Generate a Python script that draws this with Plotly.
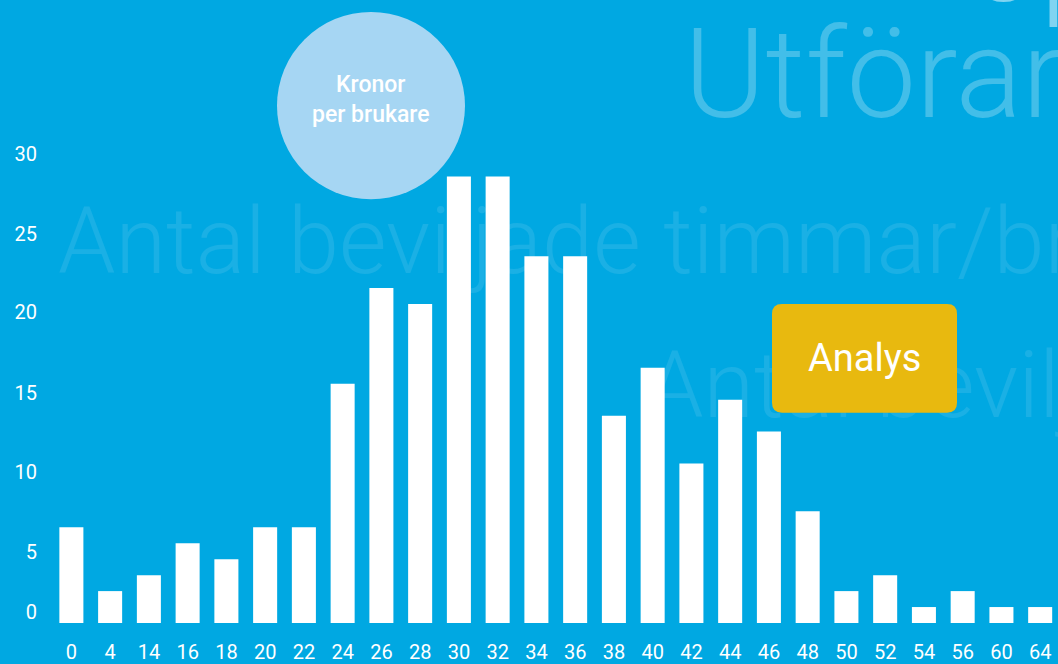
import plotly.graph_objects as go

# ---- data ----
categories = ["0", "4", "14", "16", "18", "20", "22", "24", "26", "28", "30", "32", "34",
              "36", "38", "40", "42", "44", "46", "48", "50", "52", "54", "56", "60", "64"]
values = [6, 2, 3, 5, 4, 6, 6, 15, 21, 20, 28, 28, 23, 23, 13, 16, 10, 14, 12, 7, 2, 3, 1, 2, 1, 1]
ytick_text = ["0", "5", "10", "15", "20", "25", "30"]

# ---- style ----
BG = "#00A8E2"
W, H = 1058, 664
L, B = 52, 39
PLOT_BOTTOM = H - B  # 625
FONT = "Roboto"

fig = go.Figure()

# decorative faint background text on the base axes (pixel coordinate system)
deco = [
    ("Antal beviljade timmar/brukare", 58, 251, 92, "rgba(255,255,255,0.10)"),
    ("Antal beviljade", 646, 395, 92, "rgba(255,255,255,0.10)"),
    ("Utförare", 684, 86, 124, "rgba(255,255,255,0.26)"),
]
for txt, x, y, size, col in deco:
    fig.add_trace(go.Scatter(
        x=[x], y=[y], mode="text", text=[txt], textposition="middle right",
        textfont=dict(family=FONT, size=size, color=col, weight=300),
        cliponaxis=False, hoverinfo="skip", showlegend=False,
        xaxis="x", yaxis="y"))

# bars on overlaying axes so they are drawn above the faint text
fig.add_trace(go.Bar(
    x=categories, y=values, marker=dict(color="white", line=dict(width=0)),
    xaxis="x2", yaxis="y2", showlegend=False, hoverinfo="skip"))

ymax = PLOT_BOTTOM / 16.0
n = len(categories)

def px(x):
    return (x - L) / (W - L)

def py(y):
    return (PLOT_BOTTOM - y) / PLOT_BOTTOM

# heading fragment cut off at the top edge
fig.add_annotation(xref="paper", yref="paper", x=px(966), y=py(34),
                   xanchor="left", yanchor="bottom", borderpad=0,
                   text="op", showarrow=False,
                   font=dict(family=FONT, size=130, color="rgba(255,255,255,0.5)",
                             weight=300))

# circle
fig.add_shape(type="circle", xref="paper", yref="paper",
              x0=px(277), x1=px(465), y0=py(200), y1=py(12),
              fillcolor="#A6D6F3", line=dict(width=0), layer="above")
fig.add_annotation(xref="paper", yref="paper", x=px(371), y=py(100),
                   xanchor="center", yanchor="middle",
                   text="Kronor<br>per brukare", showarrow=False,
                   font=dict(family=FONT, size=23, color="white", weight=500),
                   align="center")

# rounded yellow box
x0, x1, y0, y1, r = px(772), px(957), py(414), py(305), 10
rx = r / (W - L)
ry = r / PLOT_BOTTOM
path = (f"M {x0+rx},{y0} L {x1-rx},{y0} Q {x1},{y0} {x1},{y0+ry} "
        f"L {x1},{y1-ry} Q {x1},{y1} {x1-rx},{y1} L {x0+rx},{y1} "
        f"Q {x0},{y1} {x0},{y1-ry} L {x0},{y0+ry} Q {x0},{y0} {x0+rx},{y0} Z")
fig.add_shape(type="path", xref="paper", yref="paper", path=path,
              fillcolor="#E8B90F", line=dict(width=0), layer="above")
fig.add_annotation(xref="paper", yref="paper", x=(x0 + x1) / 2, y=(y0 + y1) / 2,
                   xanchor="center", yanchor="middle",
                   text="Analys", showarrow=False,
                   font=dict(family=FONT, size=38, color="white"))

ytick_pos = [0.7, 4.45, 9.45, 14.45, 19.5, 24.4, 29.4]

fig.update_layout(
    width=W, height=H,
    margin=dict(l=L, r=0, t=0, b=B),
    paper_bgcolor=BG, plot_bgcolor=BG,
    bargap=0.38,
    xaxis=dict(range=[L, W], visible=False, fixedrange=True),
    yaxis=dict(range=[PLOT_BOTTOM, 0], visible=False, fixedrange=True),
    xaxis2=dict(overlaying="x", anchor="y2", side="bottom",
                range=[-0.5, n - 0.54], showgrid=False, zeroline=False,
                showline=False, ticks="", tickfont=dict(family=FONT, size=20, color="white"),
                ticklabelstandoff=15, tickangle=0, fixedrange=True),
    yaxis2=dict(overlaying="y", anchor="x2", side="left",
                range=[0, ymax], showgrid=False, zeroline=False, showline=False,
                ticks="", tickvals=ytick_pos, ticktext=ytick_text,
                tickfont=dict(family=FONT, size=20, color="white"),
                ticklabelstandoff=14, fixedrange=True),
    font=dict(family=FONT, color="white"),
)

fig.write_html("out.html",
               config={"displayModeBar": False},
               post_script="document.body.style.margin='0';"
                           "document.body.style.background='#00A8E2';")
